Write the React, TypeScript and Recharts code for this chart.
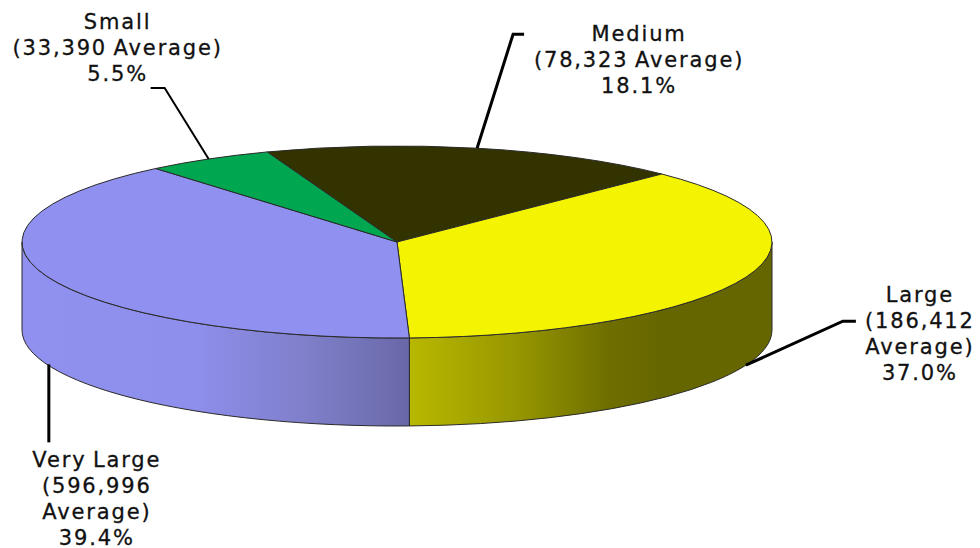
import { PieChart, Pie, Cell } from 'recharts';

const segments = ['Medium', 'Large', 'Very Large', 'Small'];
const shares = [18.1, 37.0, 39.4, 5.5];
const labelRows = [
  ['Medium', '(78,323 Average)', '18.1%'],
  ['Large', '(186,412', 'Average)', '37.0%'],
  ['Very Large', '(596,996', 'Average)', '39.4%'],
  ['Small', '(33,390 Average)', '5.5%'],
];
const topColors = ['#333300', '#f4f400', '#9090f0', '#00a650'];

const data = segments.map((name, i) => ({ name, value: shares[i] }));

// the pie is a circle squashed to this height, with a rim below it
const RX = 375;
const RY = 96;
const DEPTH = 88;
const RAD = Math.PI / 180;

const pt = (cx: number, cy: number, a: number) => ({
  x: cx + RX * Math.cos(a * RAD),
  y: cy - RY * Math.sin(a * RAD),
});

const rimStops: Record<string, string[][]> = {
  'Very Large': [['0', '#9090f0'], ['0.45', '#8e8eec'], ['0.75', '#7e7ec8'], ['1', '#6868a8']],
  Large: [['0', '#b8b800'], ['0.3', '#969600'], ['0.55', '#6e6e00'], ['0.7', '#666600'], ['1', '#666600']],
};

function Slice3D(props: any) {
  const { cx, cy, startAngle, endAngle, fill, name } = props;
  const a = pt(cx, cy, startAngle);
  const b = pt(cx, cy, endAngle);
  const big = startAngle - endAngle > 180 ? 1 : 0;
  const top = `M${cx},${cy}L${a.x},${a.y}A${RX},${RY} 0 ${big} 1 ${b.x},${b.y}Z`;

  // only the front half of the rim shows
  const from = Math.min(startAngle, 0);
  const to = Math.max(endAngle, -180);
  let rim = null;
  if (from > to) {
    const p = pt(cx, cy, from);
    const q = pt(cx, cy, to);
    const d = `M${p.x},${p.y}A${RX},${RY} 0 0 1 ${q.x},${q.y}L${q.x},${q.y + DEPTH}A${RX},${RY} 0 0 0 ${p.x},${p.y + DEPTH}Z`;
    const id = `rim-${name.replace(' ', '')}`;
    const x1 = Math.min(p.x, q.x);
    const x2 = Math.max(p.x, q.x);
    rim = (
      <>
        <defs>
          <linearGradient id={id} gradientUnits="userSpaceOnUse" x1={x1} x2={x2} y1="0" y2="0">
            {(rimStops[name] || []).map(([o, c]) => (
              <stop key={o} offset={o} stopColor={c} />
            ))}
          </linearGradient>
        </defs>
        <path d={d} fill={`url(#${id})`} stroke="#2a2a2a" strokeWidth={1} />
      </>
    );
  }
  return (
    <g>
      {rim}
      <path d={top} fill={fill} stroke="#2a2a2a" strokeWidth={1} />
    </g>
  );
}

// elbow of each leader: offset from the rim point, stub length, text anchor point, rim drop
const leaders = [
  { knee: [36, -114], stub: 11, text: [162, -107], drop: 0, nudge: 0, w: 3 },
  { knee: [97, -44], stub: 13, text: [174, -63], drop: DEPTH, nudge: 0, w: 3 },
  { knee: [0, 78], stub: 0, text: [48, 103], drop: DEPTH, nudge: 2, w: 3 },
  { knee: [-44, -71], stub: -14, text: [-91, -130], drop: 0, nudge: 0, w: 2 },
];

function SliceLabel(props: any) {
  const { cx, cy, midAngle, index } = props;
  const s = pt(cx, cy, midAngle);
  const l = leaders[index];
  const sx = s.x + l.nudge;
  const sy = s.y + l.drop;
  const kx = sx + l.knee[0];
  const ky = sy + l.knee[1];
  return (
    <g>
      <polyline
        points={`${sx},${sy} ${kx},${ky} ${kx + l.stub},${ky}`}
        fill="none"
        stroke="#000"
        strokeWidth={l.w}
      />
      <text
        x={sx + l.text[0]}
        y={sy + l.text[1]}
        textAnchor="middle"
        fontFamily="'DejaVu Sans', sans-serif"
        fontSize={21}
        letterSpacing={1.85}
        wordSpacing={-2}
        stroke="#111"
        strokeWidth={0.3}
        fill="#111"
      >
        {labelRows[index].map((row, i) => (
          <tspan key={i} x={sx + l.text[0]} dy={i === 0 ? 0 : 26}>
            {row}
          </tspan>
        ))}
      </text>
    </g>
  );
}

export default function App() {
  return (
    <div style={{ position: 'absolute', left: 0, top: 0, width: 980, height: 548, background: '#fff' }}>
      <PieChart width={980} height={548} margin={{ top: 0, right: 0, bottom: 0, left: 0 }}>
        <Pie
          data={data}
          dataKey="value"
          nameKey="name"
          cx={397}
          cy={242}
          outerRadius={RX}
          startAngle={110.25}
          endAngle={-249.75}
          stroke="none"
          shape={Slice3D}
          label={SliceLabel}
          labelLine={false}
          isAnimationActive={false}
        >
          {segments.map((name, i) => (
            <Cell key={name} fill={topColors[i]} />
          ))}
        </Pie>
      </PieChart>
    </div>
  );
}
